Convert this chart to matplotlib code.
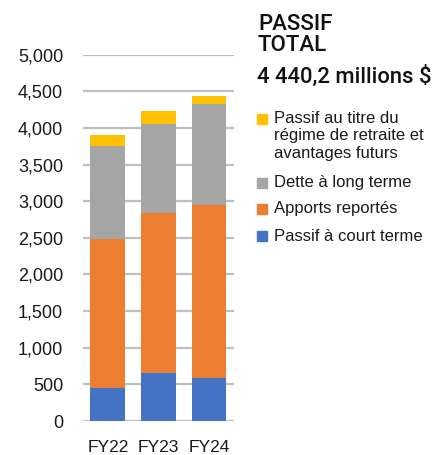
#! /usr/bin/env python

import matplotlib
matplotlib.use('Agg')
import matplotlib.pyplot as plt
from matplotlib.patches import Rectangle

# data (millions $)
years = ['FY22', 'FY23', 'FY24']
passif_court = [445, 660, 582]
apports = [2045, 2180, 2362]
dette = [1264, 1219, 1388]
retraite = [153, 177, 108]

series_names = ['Passif au titre du\nrégime de retraite et\navantages futurs',
                'Dette à long terme',
                'Apports reportés',
                'Passif à court terme']
colors = ['#FFC000', '#A5A5A5', '#ED7D31', '#4472C4']
y_ticks = [0, 500, 1000, 1500, 2000, 2500, 3000, 3500, 4000, 4500, 5000]

plt.rcParams['font.family'] = ['Liberation Sans', 'DejaVu Sans']

if __name__ == "__main__":
    fig = plt.figure(figsize=(4.35, 4.55), dpi=100)
    ax = fig.add_axes([0.190, 0.0747, 0.3486, 0.8051])

    x = range(len(years))
    bottom = [0, 0, 0]
    for vals, col in zip([passif_court, apports, dette, retraite],
                         [colors[3], colors[2], colors[1], colors[0]]):
        ax.bar(x, vals, width=0.69, bottom=bottom, color=col, zorder=3)
        bottom = [b + v for b, v in zip(bottom, vals)]

    ax.set_xlim(-0.5, 2.5)
    ax.set_ylim(0, 5000)
    ax.set_yticks(y_ticks)
    ax.set_yticklabels([f'{t:,}' for t in y_ticks])
    ax.set_xticks(list(x))
    ax.set_xticklabels(years)
    ax.tick_params(axis='y', length=0, pad=14, labelsize=13, colors='#1a1a1a')
    ax.tick_params(axis='x', length=0, pad=14, labelsize=12.5, colors='#1a1a1a')
    ax.grid(axis='y', color='#BFBFBF', linewidth=1.6, zorder=0)
    for s in ax.spines.values():
        s.set_visible(False)

    # title block
    fig.text(258 / 435, 1 - 14 / 455, 'PASSIF\nTOTAL', family=['Roboto', 'DejaVu Sans'],
             fontsize=16, fontweight='medium', va='top', ha='left', linespacing=1.0,
             color='#111111')
    fig.text(257 / 435, 1 - 77 / 455, '4 440,2 millions $', family=['Roboto', 'DejaVu Sans'],
             fontsize=15.8, fontweight='medium', va='center', ha='left', color='#111111')

    # legend drawn by hand
    ys = [119, 183, 209, 236]
    for name, col, yy in zip(series_names, colors, ys):
        fig.patches.append(Rectangle((257 / 435, 1 - (yy + 5) / 455), 10 / 435, 10 / 455,
                                     transform=fig.transFigure, color=col))
        if '\n' in name:
            fig.text(274 / 435, 1 - (yy - 8) / 455, name, fontsize=12, va='top',
                     ha='left', linespacing=1.2, color='#1a1a1a')
        else:
            fig.text(274 / 435, 1 - yy / 455, name, fontsize=12, va='center',
                     ha='left', color='#1a1a1a')

    plt.savefig('out.png', dpi=100)
